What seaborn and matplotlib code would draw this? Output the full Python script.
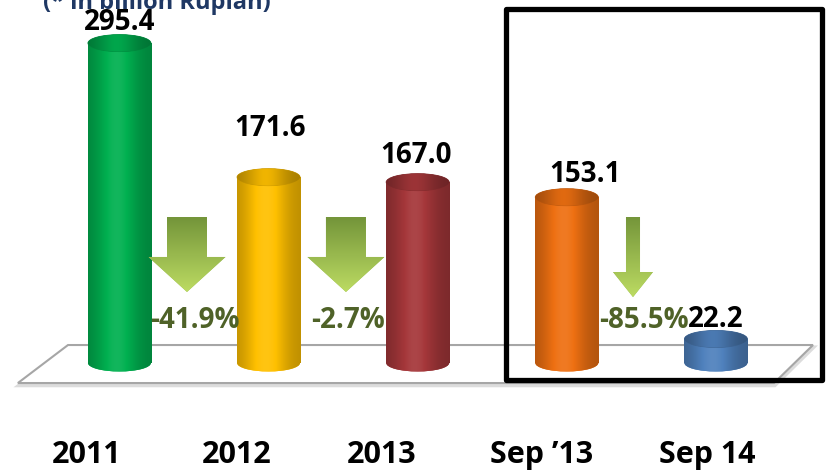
import numpy as np
import pandas as pd
import matplotlib
matplotlib.use("Agg")
import matplotlib.pyplot as plt
import seaborn as sns
from matplotlib.patches import Ellipse, Polygon, Rectangle, FancyArrow
from matplotlib.colors import to_rgb

# data
periods = ["2011", "2012", "2013", "Sep \u201913", "Sep 14"]
values = [295.4, 171.6, 167.0, 153.1, 22.2]
bar_colors = ["#00B050", "#FFC000", "#A5373A", "#EE7012", "#4F81BD"]
changes = ["-41.9%", "-2.7%", "-85.5%"]

# layout (data units of the axes below)
BAR_W = 0.4225
CAP_H = 15.7
label_lift = [19, 45, 25, 21, 18]
label_shift = [0.0, 0.01, -0.01, 0.12, 0.0]
cat_shift = [-0.218, -0.215, -0.241, -0.168, -0.06]
arrow_x = [0.453, 1.519, 3.444]
arrow_shaft = [0.268, 0.268, 0.094]
arrow_head = [0.516, 0.516, 0.268]
arrow_head_len = [32.3, 32.3, 23.1]
arrow_tip = [65.6, 65.6, 60.9]
pct_x = [0.507, 1.533, 3.52]


def shade(base, f):
    c = np.array(to_rgb(base))
    if f >= 1:
        return c + (1 - c) * (f - 1)
    return c * f


def cylinder_gradient(base, n=64, dark=1.0):
    # soft shading across the width of a cylinder
    t = np.linspace(0, 1, n)
    f = 0.74 + 0.33 * np.exp(-((t - 0.45) / 0.32) ** 2)
    row = np.array([shade(base, v * dark) for v in f])
    return row[np.newaxis, :, :]


sns.set_style("white")
plt.rcParams["font.family"] = ["Open Sans", "DejaVu Sans"]

fig = plt.figure(figsize=(8.27, 4.74), dpi=100)
ax = fig.add_axes([0, 0, 1, 1])

df = pd.DataFrame({"period": periods, "value": values})
sns.barplot(data=df, x="period", y="value", hue="period", palette=bar_colors,
            width=BAR_W, legend=False, ax=ax, zorder=2, linewidth=0)

# floor with a faint shadow
shadow = Polygon([(-0.34, 14.6), (4.656, 14.6), (4.395, -20.8), (-0.676, -20.8)],
                 closed=True, facecolor="none", edgecolor="#dcdcdc", lw=2.5, zorder=0.5)
ax.add_patch(shadow)
floor = Polygon([(-0.345, 16.6), (4.651, 16.6), (4.39, -18.5), (-0.681, -18.5)],
                closed=True, facecolor="white", edgecolor="#a6a6a6", lw=1.5, zorder=1)
ax.add_patch(floor)

bars = list(ax.patches)[:len(values)]
for i, bar in enumerate(bars):
    x0 = bar.get_x()
    w = bar.get_width()
    h = bar.get_height()
    xc = x0 + w / 2
    grad = cylinder_gradient(bar_colors[i])
    im = ax.imshow(grad, extent=[x0, x0 + w, 0, h], aspect="auto", zorder=3)
    im.set_clip_path(bar)
    bottom = Ellipse((xc, 0), w, CAP_H, facecolor=bar_colors[i], lw=0, zorder=2)
    ax.add_patch(bottom)
    im2 = ax.imshow(grad, extent=[x0, x0 + w, -CAP_H, CAP_H], aspect="auto", zorder=3)
    im2.set_clip_path(bottom)
    top = Ellipse((xc, h), w, CAP_H, facecolor=shade(bar_colors[i], 0.85),
                  edgecolor=shade(bar_colors[i], 0.78), lw=0.6, zorder=4)
    ax.add_patch(top)
    im3 = ax.imshow(cylinder_gradient(bar_colors[i], dark=0.88),
                    extent=[x0, x0 + w, h - CAP_H, h + CAP_H], aspect="auto", zorder=4)
    im3.set_clip_path(top)
    ax.text(xc + label_shift[i], h + label_lift[i], f"{values[i]:.1f}",
            ha="center", va="center", fontsize=20, fontweight="bold",
            color="black", zorder=7)
    ax.text(i + cat_shift[i], -85, periods[i], ha="center", va="center",
            fontsize=22, fontweight="bold", color="black", zorder=7)

# down arrows
arrow_top = 134.8
vgrad = np.linspace(0, 1, 64)[:, np.newaxis]
top_c = np.array(to_rgb("#74953A"))
bot_c = np.array(to_rgb("#BCDB62"))
vimg = (top_c * (1 - vgrad) + bot_c * vgrad)[:, np.newaxis, :]
vimg = np.repeat(vimg, 2, axis=1)
for k in range(len(changes)):
    arr = FancyArrow(arrow_x[k], arrow_top, 0, arrow_tip[k] - arrow_top,
                     width=arrow_shaft[k], head_width=arrow_head[k],
                     head_length=arrow_head_len[k], length_includes_head=True,
                     facecolor="#9BBB59", edgecolor="none", zorder=5)
    ax.add_patch(arr)
    hw = arrow_head[k] / 2
    im = ax.imshow(vimg, extent=[arrow_x[k] - hw, arrow_x[k] + hw, arrow_tip[k], arrow_top],
                   aspect="auto", zorder=5)
    im.set_clip_path(arr)
    ax.text(pct_x[k], 39.5, changes[k], ha="center", va="center", fontsize=20,
            fontweight="bold", color="#4F6228", zorder=7)

# highlight box
box = Rectangle((2.592, -15.7), 4.712 - 2.592, 327.3 + 15.7, fill=False,
                edgecolor="black", lw=3.8, joinstyle="round", zorder=8)
ax.add_patch(box)

ax.set_xlim(-0.801, 4.745)
ax.set_ylim(-102.5, 335.2)
ax.axis("off")

# unit note, cut off at the top edge as in the source slide
fig.text(0.052, 0.981, "(* in billion Rupiah)", ha="left", va="baseline",
         fontsize=17, fontweight="bold", color="#1F3864")

fig.savefig("out.png", dpi=100)
